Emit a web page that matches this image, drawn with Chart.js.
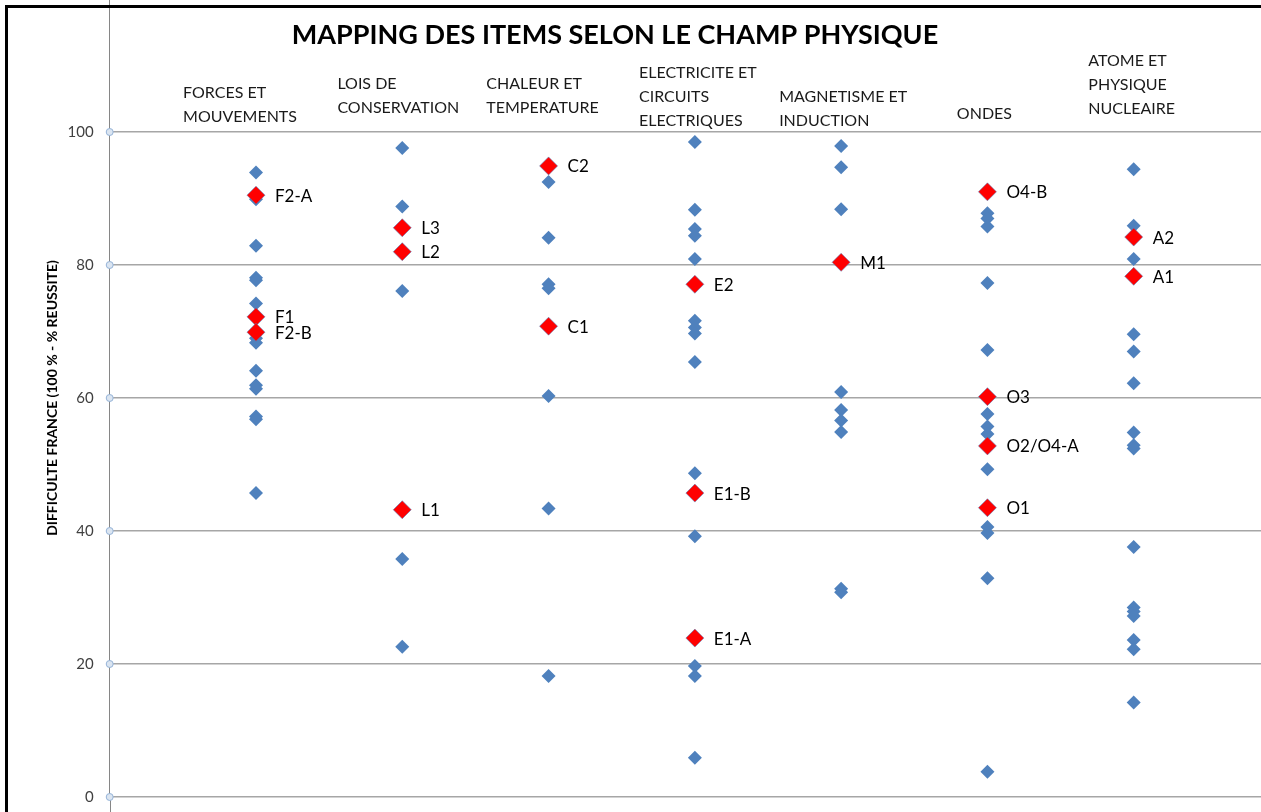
<!DOCTYPE html>
<html>
<head>
<meta charset="utf-8">
<script src="https://cdn.jsdelivr.net/npm/chart.js@4"></script>
<style>
  html, body { margin: 0; padding: 0; background: #fff; overflow: hidden; }
  body { width: 1261px; height: 812px; position: relative; }
  #chart { position: absolute; left: 0; top: -11px; }
</style>
</head>
<body>
<canvas id="chart" width="1290" height="823"></canvas>
<script>
// Fields (x = 1..7)
const categories = [
    ['FORCES ET', 'MOUVEMENTS'],
    ['LOIS DE', 'CONSERVATION'],
    ['CHALEUR ET', 'TEMPERATURE'],
    ['ELECTRICITE ET', 'CIRCUITS', 'ELECTRIQUES'],
    ['MAGNETISME ET', 'INDUCTION'],
    ['ONDES'],
    ['ATOME ET', 'PHYSIQUE', 'NUCLEAIRE']
];

// Difficulty of every item, per field
const forcesItems = [93.9, 89.9, 82.9, 78.1, 77.7, 74.2, 69.0, 68.3, 64.1, 61.9, 61.4, 57.2, 56.8, 45.7];
const loisItems = [97.6, 88.8, 82.2, 76.1, 35.8, 22.6];
const chaleurItems = [92.5, 84.1, 77.1, 76.5, 60.3, 43.4, 18.2];
const electriciteItems = [98.5, 88.3, 85.4, 84.4, 80.9, 71.6, 70.6, 69.7, 65.4, 48.7, 39.2, 19.7, 18.2, 5.9];
const magnetismeItems = [97.9, 94.7, 88.4, 60.9, 58.2, 56.6, 54.9, 31.3, 30.8];
const ondesItems = [87.8, 87.0, 85.8, 77.3, 67.2, 57.6, 55.7, 54.6, 49.3, 40.6, 39.7, 32.9, 3.8];
const atomeItems = [94.4, 85.9, 80.9, 69.6, 67.0, 62.2, 54.8, 52.9, 52.4, 37.6, 28.5, 27.9, 27.2, 23.6, 22.2, 14.2];
const itemsByField = [forcesItems, loisItems, chaleurItems, electriciteItems, magnetismeItems, ondesItems, atomeItems];

// Highlighted items (red)
const keyCodes = ['F2-A', 'F1', 'F2-B', 'L3', 'L2', 'L1', 'C2', 'C1', 'E2', 'E1-B', 'E1-A', 'M1', 'O4-B', 'O3', 'O2/O4-A', 'O1', 'A2', 'A1'];
const keyField = [1, 1, 1, 2, 2, 2, 3, 3, 4, 4, 4, 5, 6, 6, 6, 6, 7, 7];
const keyValues = [90.5, 72.2, 69.9, 85.6, 82.0, 43.2, 94.9, 70.8, 77.1, 45.7, 23.9, 80.4, 91.0, 60.2, 52.8, 43.5, 84.2, 78.3];

const yTicks = [0, 20, 40, 60, 80, 100];

const FONT = 'Lato, "Open Sans", sans-serif';

const allItems = itemsByField.flatMap((vals, i) => vals.map(v => ({ x: i + 1, y: v })));
const keyItems = keyValues.map((v, i) => ({ x: keyField[i], y: v }));
const axisMarks = yTicks.map(v => ({ x: 0, y: v }));

// text drawn on top of the plot: title, field names, item codes
const textPlugin = {
    id: 'texts',
    beforeDatasetsDraw(chart) {
        const { ctx, chartArea } = chart;
        ctx.save();
        ctx.strokeStyle = '#868686';
        ctx.lineWidth = 1;
        ctx.beginPath();
        ctx.moveTo(Math.round(chartArea.left) + 0.5, chartArea.bottom);
        ctx.lineTo(Math.round(chartArea.left) + 0.5, chart.height);
        ctx.stroke();
        ctx.restore();
    },
    afterDraw(chart) {
        const { ctx } = chart;
        const xs = chart.scales.x;
        const ys = chart.scales.y;
        const top100 = ys.getPixelForValue(100);
        ctx.save();

        // outer frame of the chart (left and top edges)
        ctx.fillStyle = '#000';
        ctx.fillRect(5, top100 - 127, 3, chart.height);
        ctx.fillRect(5, top100 - 127, chart.width, 3);

        // title
        ctx.font = `bold 27px ${FONT}`;
        ctx.textAlign = 'center';
        ctx.textBaseline = 'middle';
        ctx.fillText('MAPPING DES ITEMS SELON LE CHAMP PHYSIQUE', 615, top100 - 97);

        // field names
        const dx = [-16, -4, -6, 3, 2, -3, -2];
        const rise = [39, 48, 48, 59, 35, 18, 71];
        ctx.font = `16px ${FONT}`;
        ctx.fillStyle = '#1a1a1a';
        ctx.textAlign = 'left';
        categories.forEach((lines, i) => {
            const w = Math.max(...lines.map(l => ctx.measureText(l).width));
            const left = xs.getPixelForValue(i + 1) + dx[i] - w / 2;
            const top = top100 - rise[i];
            lines.forEach((l, j) => ctx.fillText(l, left, top + j * 24));
        });

        // item codes
        ctx.font = `17px ${FONT}`;
        ctx.fillStyle = '#000';
        keyCodes.forEach((code, i) => {
            ctx.fillText(code, xs.getPixelForValue(keyField[i]) + 19, ys.getPixelForValue(keyValues[i]) + 1);
        });
        ctx.restore();
    }
};

new Chart(document.getElementById('chart'), {
    type: 'scatter',
    data: {
        datasets: [
            {
                data: keyItems,
                pointStyle: 'rectRot',
                pointRadius: 9,
                pointHoverRadius: 9,
                backgroundColor: '#ff0000',
                borderColor: 'rgba(79,129,189,0.55)',
                borderWidth: 1
            },
            {
                data: allItems,
                pointStyle: 'rectRot',
                pointRadius: 7,
                pointHoverRadius: 7,
                backgroundColor: '#4f81bd',
                borderColor: '#4f81bd',
                borderWidth: 0
            },
            {
                data: axisMarks,
                pointStyle: 'circle',
                pointRadius: 3.5,
                backgroundColor: '#dbe5f1',
                borderColor: '#95b3d7',
                borderWidth: 1,
                clip: false
            }
        ]
    },
    options: {
        responsive: false,
        animation: false,
        events: [],
        layout: { padding: { top: 0, bottom: 15, left: 0, right: 10 } },
        plugins: {
            legend: { display: false },
            tooltip: { enabled: false }
        },
        scales: {
            x: {
                min: 0,
                max: 8,
                ticks: { display: false },
                grid: { display: false },
                border: { display: false },
                afterFit(scale) {
                    scale.height = 0;
                    scale.paddingLeft = 0;
                    scale.paddingRight = 0;
                }
            },
            y: {
                min: 0,
                max: 120,
                ticks: {
                    stepSize: 20,
                    padding: 16,
                    color: '#404040',
                    font: { family: FONT, size: 15 },
                    callback: v => (v > 100 ? '' : v)
                },
                grid: {
                    color: '#a6a6a6',
                    lineWidth: 1.5,
                    drawTicks: false
                },
                border: { color: '#868686', width: 1 },
                title: {
                    display: true,
                    text: 'DIFFICULTE FRANCE (100 % - % REUSSITE)',
                    color: '#000',
                    font: { family: FONT, size: 14, weight: 'bold' },
                    padding: { top: 44, bottom: 0 }
                },
                afterFit(scale) {
                    scale.width = 109.7;
                    scale.paddingTop = 0;
                    scale.paddingBottom = 0;
                }
            }
        }
    },
    plugins: [textPlugin]
});
</script>
</body>
</html>
